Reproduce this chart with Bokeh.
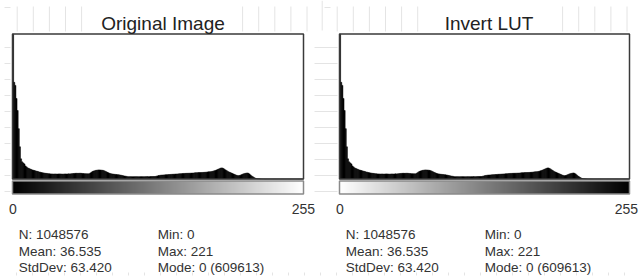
import numpy as np
from bokeh.plotting import figure
from bokeh.models import Range1d, Label, LinearColorMapper
from bokeh.embed import file_html
from bokeh.resources import INLINE
from bokeh.palettes import Greys256

# ---------------- data ----------------
panel_titles = ["Original Image", "Invert LUT"]
lut_inverted = [False, True]
tick_labels = ["0", "255"]

stat_n = 1048576
stat_mean = 36.535
stat_stddev = 63.420
stat_min = 0
stat_max = 221
stat_mode = 0
stat_mode_count = 609613

counts_0_7 = [609613, 26980, 26130, 22480, 19110, 14050, 8990, 5620]
counts_8_34 = [4780, 4500, 4220, 3650, 3370, 3090, 2950, 2810, 2670, 2530, 2440,
               2360, 2250, 2160, 2080, 1970, 1910, 1800, 1740, 1690, 1630, 1570,
               1550, 1490, 1460, 1430, 1410]
counts_35_66 = [1400, 1380, 1420, 1390, 1370, 1410, 1430, 1400, 1380, 1360, 1400,
                1420, 1390, 1410, 1440, 1420,
                1450, 1500, 1530, 1560, 1580, 1600, 1570, 1590, 1610, 1580, 1550,
                1520, 1490, 1470, 1450, 1440]
counts_67_100 = [1460, 1690, 1910, 2110, 2250, 2330, 2420, 2470, 2530, 2530, 2500,
                 2470, 2420, 2330, 2190, 2020, 1850, 1710, 1570, 1490, 1430, 1380,
                 1320, 1290, 1260, 1210, 1180, 1120, 1070, 980, 900, 840, 790, 730]
counts_101_130 = [650, 640, 660, 650, 630, 640, 650, 660, 650, 640, 630, 650, 660,
                  650, 640, 650, 660, 670, 650, 660, 670, 680, 690, 700,
                  700, 790, 870, 960, 1010, 1070]
counts_131_169 = [1100, 1120, 1150, 1170, 1200, 1220, 1240, 1260, 1290, 1310, 1330,
                  1350, 1380, 1400, 1420, 1440, 1470, 1490, 1510, 1550,
                  1560, 1570, 1590, 1600, 1610, 1630, 1640, 1660, 1680, 1740,
                  1750, 1760, 1780, 1790, 1800, 1820, 1830, 1850, 1880]
counts_170_221 = [1910, 1970, 2000, 2020, 2050, 2110, 2190, 2280, 2390, 2530, 2670,
                  2810, 2950, 3090, 3090, 2950, 2750, 2530, 2330, 2110, 1970, 1830,
                  1690, 1550, 1410, 1260, 1120, 1010, 930, 980, 1070, 1210, 1350,
                  1460, 1550, 1630, 1690, 1600, 1410, 1120, 840, 620, 420, 250, 140,
                  90, 60, 40, 30, 20, 12, 6]
counts_222_255 = [0] * 34

counts = (counts_0_7 + counts_8_34 + counts_35_66 + counts_67_100 + counts_101_130
          + counts_131_169 + counts_170_221 + counts_222_255)
assert len(counts) == 256, len(counts)
bins = np.arange(256)
lut_levels = np.arange(256)

# ---------------- layout (page pixels) ----------------
W, H = 639, 276
X0, Y0 = 0, 0
box_x = [(12, 303), (339, 629)]
box_top, box_bottom = 33.5, 178.5
lut_top, lut_bottom = 180.5, 193.5
title_cx = [162.5, 488.5]
font = "Liberation Sans"

p = figure(width=W, height=H, output_backend="svg", toolbar_location=None,
           x_range=Range1d(X0, X0 + W), y_range=Range1d(Y0 + H, Y0),
           x_axis_location=None, y_axis_location=None, min_border=0)
p.grid.visible = False
p.outline_line_color = None
p.background_fill_color = "white"
p.border_fill_color = "white"
p.extra_y_ranges["up"] = Range1d(0, H)

# faint background grid (decoration)
gxs, gys = [], []
for i in range(2):
    base = 320 * i
    for gx in np.arange(base + 16.7, base + 320, 16.1):
        if abs(gx - title_cx[i]) < 70:
            continue
        gxs.append([gx, gx]); gys.append([6, 31])
    gxs.append([base + 4, base + 10]); gys.append([7, 7])
for gy in np.arange(47, 200, 16):
    gxs.append([314, 337]); gys.append([gy, gy])
    gxs.append([4, 10]); gys.append([gy, gy])
gxs.append([321.7, 321.7]); gys.append([0, 30])
for gx in np.arange(16, 639, 16):
    gxs.append([gx, gx]); gys.append([272, 275])
p.multi_line(xs=gxs, ys=gys, line_color="#e4e4e4", line_width=1)

# count range: ImageJ-style scaling (1.5 x second-highest bin when mode dominates)
srt = sorted(counts)
ymax = 1.5 * srt[-2] if srt[-1] > 2 * srt[-2] else srt[-1]
cpp = ymax / (box_bottom - box_top)
p.extra_y_ranges["cnt"] = Range1d(-(Y0 + H - box_bottom) * cpp, (box_bottom - Y0) * cpp)
shown = np.minimum(np.array(counts, dtype=float), ymax)

stats_left = [f"N: {stat_n}", f"Mean: {stat_mean:.3f}", f"StdDev: {stat_stddev:.3f}"]
stats_right = [f"Min: {stat_min}", f"Max: {stat_max}", f"Mode: {stat_mode} ({stat_mode_count})"]
stat_baselines = [234.0, 250.5, 267.0]

grey = list(Greys256)
if grey[0].lower() != "#000000":
    grey = grey[::-1]

for i, (xl, xr) in enumerate(box_x):
    sc = (xr - xl) / 256.0
    rname = f"h{i}"
    p.extra_x_ranges[rname] = Range1d((X0 - xl) / sc, (X0 + W - xl) / sc)

    # histogram
    p.quad(left=bins, right=bins + 1, bottom=0, top=shown,
           x_range_name=rname, y_range_name="cnt",
           fill_color="black", line_color="black", line_width=0.5)

    # LUT bar
    pal = grey[::-1] if lut_inverted[i] else grey
    mapper = LinearColorMapper(palette=pal, low=0, high=255)
    p.image(image=[lut_levels.reshape(1, 256)], x=0, y=H - lut_bottom, dw=256,
            dh=lut_bottom - lut_top, x_range_name=rname, y_range_name="up",
            color_mapper=mapper)

    # frames
    p.quad(left=xl, right=xr, top=box_top, bottom=box_bottom,
           fill_color=None, line_color="#3a3a3a", line_width=1.5)
    p.quad(left=xl, right=xr, top=lut_top, bottom=lut_bottom,
           fill_color=None, line_color="#8a8a8a", line_width=1.5)

    # texts
    p.add_layout(Label(x=title_cx[i], y=22.7, text=panel_titles[i], text_align="center",
                       text_baseline="alphabetic", text_font=font,
                       text_font_size="19px", text_color="#222222"))
    p.add_layout(Label(x=xl + 0.5, y=208.5, text=tick_labels[0], text_align="center",
                       text_baseline="alphabetic", text_font=font,
                       text_font_size="14px", text_color="#333333"))
    # right end label: centred on the frame edge, kept inside the picture
    hi_x = min(xr + 11.5, W - 1.5)
    p.add_layout(Label(x=hi_x, y=208.5, text=tick_labels[1], text_align="right",
                       text_baseline="alphabetic", text_font=font,
                       text_font_size="14px", text_color="#333333"))
    for j in range(3):
        p.add_layout(Label(x=xl + 6.3, y=stat_baselines[j], text=stats_left[j],
                           text_align="left", text_baseline="alphabetic",
                           text_font=font, text_font_size="13.5px", text_color="#333333"))
        p.add_layout(Label(x=xl + 145.3, y=stat_baselines[j], text=stats_right[j],
                           text_align="left", text_baseline="alphabetic",
                           text_font=font, text_font_size="13.5px", text_color="#333333"))

open("out.html", "w").write(file_html(p, INLINE))
